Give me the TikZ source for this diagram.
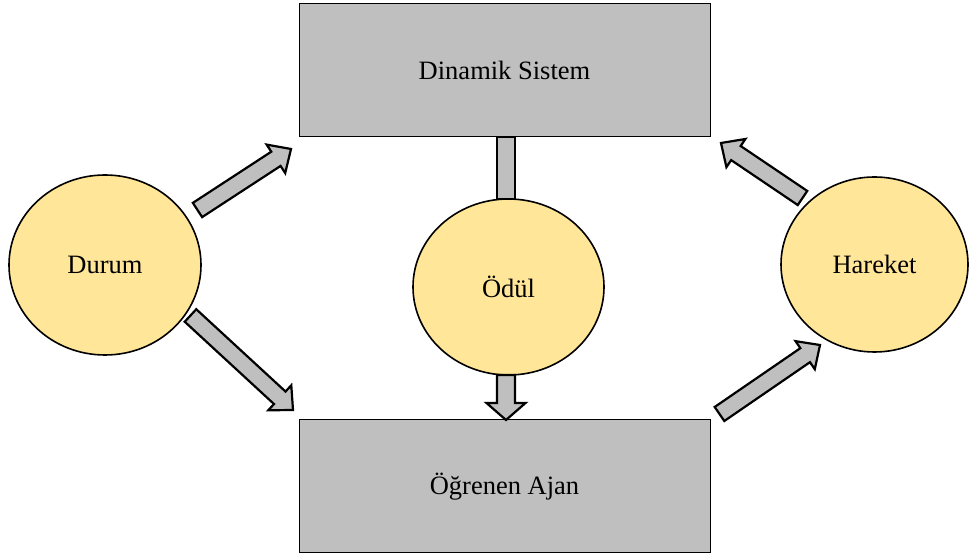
\documentclass[tikz,border=0pt]{standalone}
\usepackage{fontspec}
\setmainfont{Liberation Serif}
\usetikzlibrary{calc,shapes.geometric}
\definecolor{boxgray}{HTML}{BFBFBF}
\definecolor{sun}{HTML}{FFE699}

% Block arrow from #1 to #2: shaft half-width #3, head half-width #4, head length #5
\newcommand\blockarrow[5]{%
  \draw[blockarrowline] let \p1=(#1), \p2=(#2), \n1={atan2(\y2-\y1,\x2-\x1)} in
    ($(#1)+(\n1+90:#3)$)
    -- ($(#2)+(\n1+180:#5)+(\n1+90:#3)$)
    -- ($(#2)+(\n1+180:#5)+(\n1+90:#4)$)
    -- (#2)
    -- ($(#2)+(\n1+180:#5)+(\n1-90:#4)$)
    -- ($(#2)+(\n1+180:#5)+(\n1-90:#3)$)
    -- ($(#1)+(\n1-90:#3)$)
    -- cycle;}

\tikzset{
  sysbox/.style={draw=black, line width=1pt, fill=boxgray, inner sep=0pt, outer sep=0pt,
    minimum width=411pt, minimum height=133pt},
  statebubble/.style={ellipse, draw=black, line width=1.6pt, fill=sun, inner sep=0pt, outer sep=0pt},
  blockarrowline/.style={draw=black, line width=2.2pt, fill=boxgray, line join=miter},
  every node/.style={font=\fontsize{26.5}{30}\selectfont}
}

\begin{document}
\begin{tikzpicture}[x=1pt, y=1pt]
  \useasboundingbox (0,0) rectangle (969,559);
  \fill[white] (0,0) rectangle (969,559);

  % the two boxes
  \node[sysbox] (sys)  at (504.5,488.5) {Dinamik Sistem};
  \node[sysbox] (ajan) at (504.5,72.5) {Öğrenen Ajan};

  % the three bubbles
  \node[statebubble, minimum width=192pt, minimum height=180pt] (durum)   at (105,294)   {Durum};
  \node[statebubble, minimum width=191pt, minimum height=176pt] (odul)    at (508.5,272) {Ödül};
  \node[statebubble, minimum width=187pt, minimum height=175pt] (hareket) at (874.5,294.5) {Hareket};

  % vertical link between system, reward and agent
  \coordinate (rs) at ($(odul.south)+(-2.5,0)$);
  \coordinate (re) at (rs |- ajan.north);
  \coordinate (bt) at (rs |- sys.south);
  \coordinate (bb) at (rs |- odul.north);
  \draw[blockarrowline] ($(bt)+(-9,0)$) rectangle ($(bb)+(9,0)$);

  % arrow end points
  \coordinate (a1s) at (197.5,349);  \coordinate (a1e) at (291,410);
  \coordinate (a2s) at (190.5,243.5); \coordinate (a2e) at (293,149);
  \coordinate (a3s) at (802.5,361);  \coordinate (a3e) at (721,416);
  \coordinate (a4s) at (719.5,145);  \coordinate (a4e) at (820,214);

  \blockarrow{a1s}{a1e}{8.5}{17}{18}
  \blockarrow{a2s}{a2e}{8.5}{17}{18}
  \blockarrow{a3s}{a3e}{8.5}{17}{18}
  \blockarrow{a4s}{a4e}{8.5}{17}{18}
  \blockarrow{rs}{re}{9}{19.5}{17}
\end{tikzpicture}
\end{document}
